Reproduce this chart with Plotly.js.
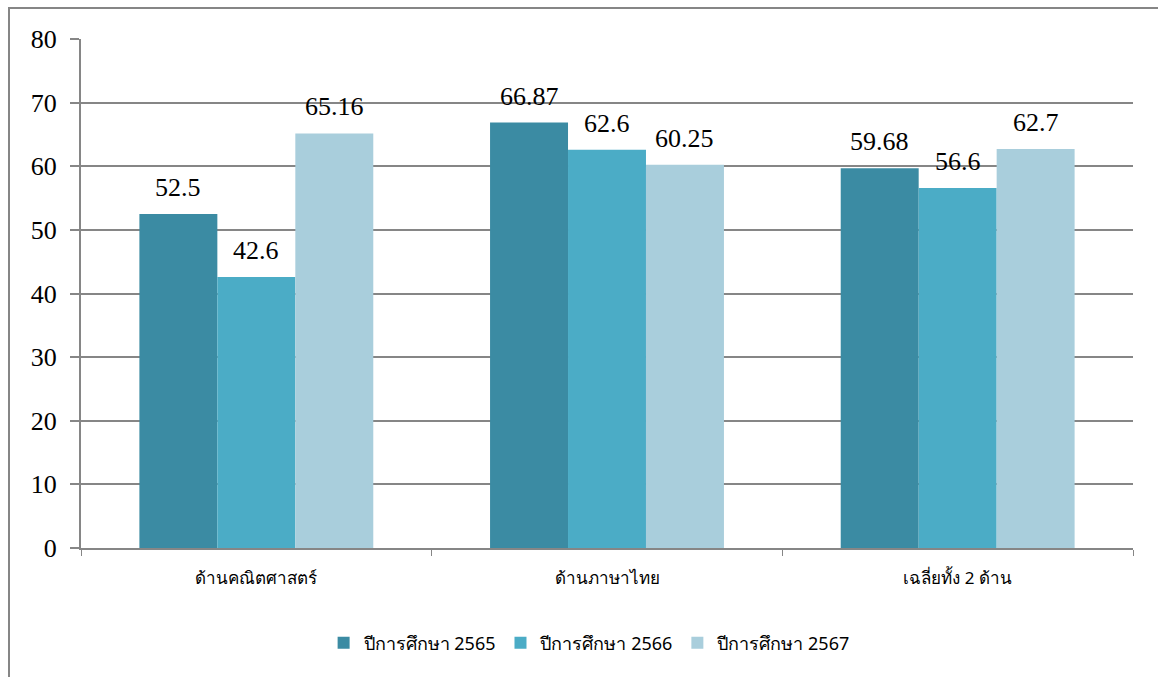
<!DOCTYPE html>
<html>
<head>
<meta charset="utf-8">
<script src="https://cdn.plot.ly/plotly-3.0.1.min.js"></script>
<style>html,body{margin:0;padding:0;background:#fff;}</style>
</head>
<body>
<div id="chart" style="width:1158px;height:677px;"></div>
<script>
const categories = ["ด้านคณิตศาสตร์", "ด้านภาษาไทย", "เฉลี่ยทั้ง 2 ด้าน"];
const seriesNames = ["ปีการศึกษา 2565", "ปีการศึกษา 2566", "ปีการศึกษา 2567"];
const values2565 = [52.5, 66.87, 59.68];
const values2566 = [42.6, 62.6, 56.6];
const values2567 = [65.16, 60.25, 62.7];
const colors = ["#3B8BA3", "#4BACC6", "#A9CEDC"];
const yTicks = [0, 10, 20, 30, 40, 50, 60, 70, 80];

const seriesValues = [values2565, values2566, values2567];
const traces = seriesValues.map((v, i) => ({
  type: "bar",
  name: seriesNames[i],
  x: categories,
  y: v,
  marker: {color: colors[i]},
  hoverinfo: "none"
}));

const L = 81, R = 1133, T = 39, B = 548;
const pw = R - L, ph = B - T;
const px = x => (x - L) / pw;
const py = y => (B - y) / ph;
const bargap = 0.333;
const barPx = pw / categories.length * (1 - bargap) / seriesValues.length;

const annotations = [];
seriesValues.forEach((v, i) => {
  v.forEach((val, j) => {
    annotations.push({
      xref: "x", yref: "y", x: categories[j], y: val,
      text: String(val), showarrow: false,
      xanchor: "center", yanchor: "bottom",
      xshift: (i - (seriesValues.length - 1) / 2) * barPx, yshift: 10,
      font: {family: "Liberation Serif, Times New Roman, serif", size: 26, color: "#000"}
    });
  });
});

const thaiFont = "Tahoma, 'Noto Sans', 'DejaVu Sans', sans-serif";

const layout = {
  width: 1158, height: 677,
  margin: {l: L, r: 1158 - R, t: T, b: 677 - B, pad: 0},
  paper_bgcolor: "#fff", plot_bgcolor: "#fff",
  bargap: bargap, bargroupgap: 0,
  barmode: "group",
  showlegend: true,
  legend: {orientation: "h", x: 0.483, xanchor: "center", y: py(643), yanchor: "middle",
    font: {family: thaiFont, size: 18, color: "#000"},
    itemwidth: 30, traceorder: "normal"},
  xaxis: {
    type: "category",
    tickson: "boundaries",
    ticks: "outside", ticklen: 6, tickcolor: "#868686", tickwidth: 1,
    showline: true, linecolor: "#868686", linewidth: 2,
    showgrid: false,
    tickfont: {family: thaiFont, size: 17, color: "#000"},
    ticklabelstandoff: 14
  },
  yaxis: {
    range: [0, 80],
    tickvals: yTicks,
    ticktext: yTicks.map(String),
    ticks: "outside", ticklen: 9, tickcolor: "#868686", tickwidth: 2,
    showline: true, linecolor: "#868686", linewidth: 2,
    showgrid: true, gridcolor: "#868686", gridwidth: 2,
    zeroline: false,
    tickfont: {family: "Liberation Serif, Times New Roman, serif", size: 26, color: "#000"},
    ticklabelstandoff: 8
  },
  annotations: annotations,
  shapes: [
    {type: "rect", xref: "paper", yref: "paper",
      x0: px(9), x1: px(1175), y0: py(700), y1: py(8),
      line: {color: "#868686", width: 2}, fillcolor: "rgba(0,0,0,0)", layer: "below"}
  ]
};

Plotly.newPlot("chart", traces, layout, {displayModeBar: false, staticPlot: true});
</script>
</body>
</html>
